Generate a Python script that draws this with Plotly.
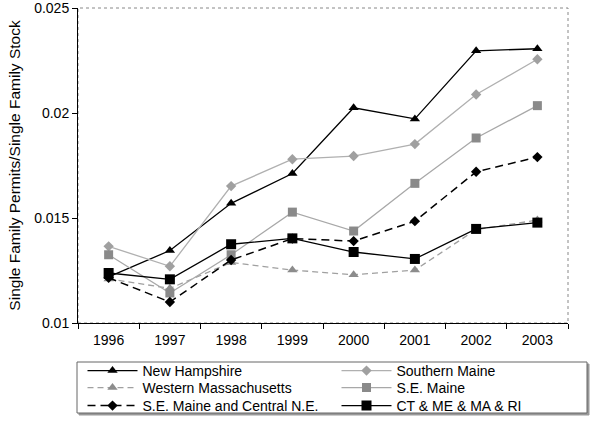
import plotly.graph_objects as go

years = ["1996", "1997", "1998", "1999", "2000", "2001", "2002", "2003"]
new_hampshire = [0.0122, 0.01345, 0.0157, 0.01712, 0.02025, 0.01972, 0.02296, 0.02306]
southern_maine = [0.01365, 0.0127, 0.01652, 0.0178, 0.01795, 0.01852, 0.02088, 0.02256]
western_mass = [0.0121, 0.01165, 0.01288, 0.01252, 0.0123, 0.01252, 0.01445, 0.0149]
se_maine = [0.01325, 0.01143, 0.01325, 0.01528, 0.01438, 0.01665, 0.01881, 0.02035]
se_maine_central = [0.01215, 0.011, 0.013, 0.01402, 0.0139, 0.01485, 0.0172, 0.0179]
ct_me_ma_ri = [0.01238, 0.01208, 0.01375, 0.01403, 0.01338, 0.01305, 0.01448, 0.01478]

series = [
    ("New Hampshire", new_hampshire, dict(color="black", width=1.3), dict(symbol="triangle-up", size=9, color="black")),
    ("Southern Maine", southern_maine, dict(color="#b0b0b0", width=1.3), dict(symbol="diamond", size=8, color="#a0a0a0")),
    ("Western Massachusetts", western_mass, dict(color="#a0a0a0", width=1.3, dash="6px,4px"), dict(symbol="triangle-up", size=9, color="#8c8c8c")),
    ("S.E. Maine", se_maine, dict(color="#a8a8a8", width=1.3), dict(symbol="square", size=9, color="#8a8a8a")),
    ("S.E. Maine and Central N.E.", se_maine_central, dict(color="black", width=1.5, dash="8px,5px"), dict(symbol="diamond", size=8, color="black")),
    ("CT & ME & MA & RI", ct_me_ma_ri, dict(color="black", width=1.3), dict(symbol="square", size=10, color="black")),
]

font = "Liberation Sans, Arial, sans-serif"
H = 315.0  # plot-area height in px (for paper-coordinate conversion)
W = 490.0
row_centers_px = [371, 388, 406]
col_x = [(82.5 - 78) / W, (336.5 - 78) / W]

fig = go.Figure()
legend_layouts = {}
for i, (name, vals, line, marker) in enumerate(series):
    lname = "legend" if i == 0 else f"legend{i + 1}"
    fig.add_trace(go.Scatter(x=years, y=vals, name=name, mode="lines+markers",
                             line=line, marker=marker, legend=lname))
    row, col = divmod(i, 2)
    legend_layouts[lname] = dict(
        orientation="h", x=col_x[col], xanchor="left",
        y=-(row_centers_px[row] - 323) / H, yanchor="middle",
        borderwidth=0, bgcolor="rgba(0,0,0,0)",
        font=dict(family=font, size=14, color="black"),
        itemwidth=50,
    )

fig.update_layout(
    width=600, height=423,
    margin=dict(l=78, r=32, t=8, b=100, autoexpand=False),
    paper_bgcolor="white", plot_bgcolor="white",
    font=dict(family=font, size=14, color="black"),
    showlegend=True,
    xaxis=dict(type="category", range=[-0.5, 7.5], showgrid=False,
               showline=True, linecolor="black", linewidth=1,
               ticks="outside", ticklen=5, tickcolor="black", tickson="boundaries",
               ticklabelstandoff=4, tickfont=dict(size=14)),
    yaxis=dict(range=[0.01, 0.0250001], tickvals=[0.01, 0.015, 0.02, 0.025],
               ticktext=["0.01", "0.015", "0.02", "0.025"], showgrid=False,
               showline=True, linecolor="black", linewidth=1,
               ticks="outside", ticklen=5, tickcolor="black", zeroline=False,
               tickfont=dict(size=14), ticklabeloverflow="allow",
               title=dict(text="Single Family Permits/Single Family Stock",
                          font=dict(size=15.5), standoff=9)),
    **legend_layouts,
)
fig.add_shape(type="rect", xref="paper", yref="paper", x0=0, y0=0, x1=1, y1=1,
              line=dict(color="#888888", width=1, dash="dot"), layer="below")
# legend frame with light shadow
lx0, lx1 = (77 - 78) / W, (587 - 78) / W
ly0, ly1 = -(362 - 323) / H, -(413 - 323) / H
fig.add_shape(type="rect", xref="paper", yref="paper", x0=lx0 + 2 / W, y0=ly0 - 2 / H,
              x1=lx1 + 2 / W, y1=ly1 - 2 / H,
              line=dict(color="#999999", width=1), fillcolor="#999999", layer="below")
fig.add_shape(type="rect", xref="paper", yref="paper", x0=lx0, y0=ly0, x1=lx1, y1=ly1,
              line=dict(color="#666666", width=1), fillcolor="white", layer="below")

fig.write_html("out.html", config={"displayModeBar": False},
               post_script="document.body.style.margin='0px';")
